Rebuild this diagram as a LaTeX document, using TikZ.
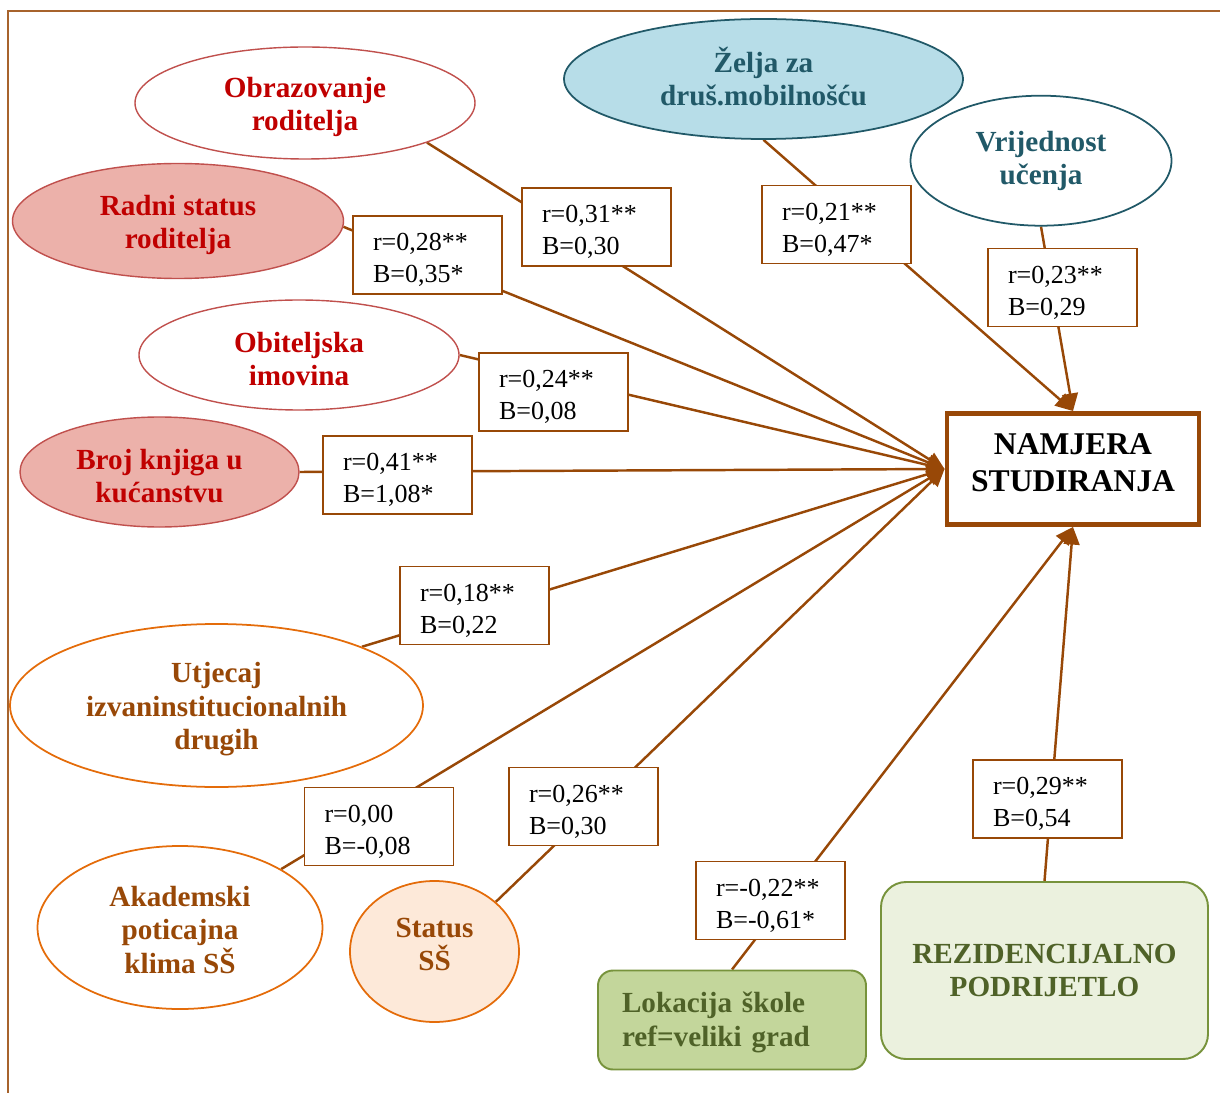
\documentclass[tikz,border=0pt]{standalone}
\usepackage{fontspec}
\setmainfont{Liberation Serif}
\usetikzlibrary{shapes.geometric,arrows.meta,backgrounds}
\definecolor{dred}{HTML}{C00000}
\definecolor{redline}{HTML}{C0504D}
\definecolor{pinkfill}{HTML}{ECB1AA}
\definecolor{tealtxt}{HTML}{215968}
\definecolor{tealfill}{HTML}{B7DDE8}
\definecolor{orline}{HTML}{E46C0A}
\definecolor{brtxt}{HTML}{984807}
\definecolor{stfill}{HTML}{FDE9D9}
\definecolor{grtxt}{HTML}{4F6228}
\definecolor{grline}{HTML}{77933C}
\definecolor{lokfill}{HTML}{C3D69B}
\definecolor{rezfill}{HTML}{EBF1DE}
\definecolor{conn}{HTML}{984807}
\newcommand\lbltxt[2]{\rule{0pt}{15.5pt}#1\\#2}
\newcommand\topstrut{\rule{0pt}{16pt}}
\newcommand\botstrut{\rule[-7pt]{0pt}{0pt}}
\begin{document}
\begin{tikzpicture}[x=0.2mm,y=-0.2mm,
  etext/.style={font=\fontsize{16.6}{19}\selectfont\bfseries, align=center},
  ell/.style={ellipse, etext, inner sep=0pt, line width=0.8pt},
  redell/.style={ell, draw=redline, text=dred},
  tealell/.style={ell, draw=tealtxt, text=tealtxt, line width=1pt},
  orell/.style={ell, draw=orline, text=brtxt, line width=1pt},
  grbox/.style={rectangle, etext, draw=grline, text=grtxt, line width=1.1pt, inner sep=0pt},
  lbl/.style={rectangle, draw=conn, fill=white, line width=1.1pt,
    font=\fontsize{14.8}{18.2}\selectfont, align=left,
    text width=21.8mm, inner xsep=4mm, inner ysep=0pt,
    minimum width=29.4mm, minimum height=15.6mm},
  cline/.style={draw=conn, line width=1.4pt, -{Triangle[length=10pt,width=9pt]}},
  framel/.style={draw=conn!85, line width=1.1pt}
]
\useasboundingbox (0,0) rectangle (1220,1093);

% source nodes
\node[redell, minimum width=68mm, minimum height=22.4mm] (obr) at (305,103) {\topstrut Obrazovanje\\roditelja};
\node[redell, fill=pinkfill, minimum width=66.2mm, minimum height=23mm] (rad) at (178,221) {\topstrut Radni status\\roditelja};
\node[redell, minimum width=64mm, minimum height=22mm] (obi) at (299,355) {\topstrut Obiteljska\\imovina};
\node[redell, fill=pinkfill, minimum width=55.8mm, minimum height=22mm] (bro) at (159.5,472) {\topstrut Broj knjiga u\\kućanstvu};
\node[orell, minimum width=82.6mm, minimum height=32.6mm] (utj) at (216.5,705.5) {\topstrut Utjecaj\\izvaninstitucionalnih\\drugih};
\node[orell, minimum width=57mm, minimum height=32.6mm] (aka) at (180,927.5) {\rule{0pt}{14pt}Akademski\\poticajna\\klima SŠ};
\node[orell, fill=stfill, minimum width=33.8mm, minimum height=28.2mm] (sta) at (434.5,951.5) {Status\\SŠ\rule[-8pt]{0pt}{0pt}};
\node[tealell, fill=tealfill, minimum width=79.8mm, minimum height=24mm] (zel) at (763.5,79) {Želja za\\druš.mobilnošću\rule[-3pt]{0pt}{0pt}};
\node[tealell, minimum width=52.2mm, minimum height=26mm] (vri) at (1041,160.7) {Vrijednost\\učenja};
\node[grbox, fill=lokfill, rounded corners=3mm, minimum width=53.6mm, minimum height=19.8mm,
  align=left, text width=44mm, inner xsep=4.8mm] (lok) at (732,1020) {\rule{0pt}{14.5pt}Lokacija škole\\ref=veliki grad};
\node[grbox, fill=rezfill, rounded corners=5mm, minimum width=65.4mm, minimum height=35.4mm] (rez) at (1044.5,970.5) {REZIDENCIJALNO\\PODRIJETLO};

% target
\node[rectangle, draw=conn, line width=2.8pt, fill=white, inner sep=0pt,
  minimum width=50.4mm, minimum height=22.2mm, align=center,
  font=\fontsize{18}{21}\selectfont\bfseries] (tgt) at (1073,469) {NAMJERA\\STUDIRANJA\botstrut};

% label boxes
\node[lbl] (la) at (596.5,227) {\lbltxt{r=0,31**}{B=0,30}};
\node[lbl] (lb) at (427.5,255) {\lbltxt{r=0,28**}{B=0,35*}};
\node[lbl] (lc) at (836.5,224.5) {\lbltxt{r=0,21**}{B=0,47*}};
\node[lbl] (ld) at (1062.5,287.5) {\lbltxt{r=0,23**}{B=0,29}};
\node[lbl] (le) at (553.5,392) {\lbltxt{r=0,24**}{B=0,08}};
\node[lbl] (lf) at (397.5,475) {\lbltxt{r=0,41**}{B=1,08*}};
\node[lbl] (lg) at (474.5,605.5) {\lbltxt{r=0,18**}{B=0,22}};
\node[lbl] (lh) at (379,826.5) {\lbltxt{r=0,00}{B=-0,08}};
\node[lbl] (li) at (583.5,806.5) {\lbltxt{r=0,26**}{B=0,30}};
\node[lbl] (lj) at (770.5,900.5) {\lbltxt{r=-0,22**}{B=-0,61*}};
\node[lbl] (lk) at (1047.5,799) {\lbltxt{r=0,29**}{B=0,54}};

\begin{pgfonlayer}{background}
\draw[framel] (8,1093) -- (8,11) -- (1220,11);
\draw[cline] (obr.-18) -- (tgt.west);
\draw[cline] (rad.-2) -- (tgt.west);
\draw[cline] (obi.east) -- (tgt.west);
\draw[cline] (bro.east) -- (tgt.west);
\draw[cline] (utj.22) -- (tgt.west);
\draw[cline] (aka.30) -- (tgt.west);
\draw[cline] (sta.39) -- (tgt.west);
\draw[cline] (zel.south) -- (tgt.north);
\draw[cline] (vri.south) -- (tgt.north);
\draw[cline] (lok.north) -- (tgt.south);
\draw[cline] (rez.north) -- (tgt.south);
\end{pgfonlayer}
\end{tikzpicture}
\end{document}
